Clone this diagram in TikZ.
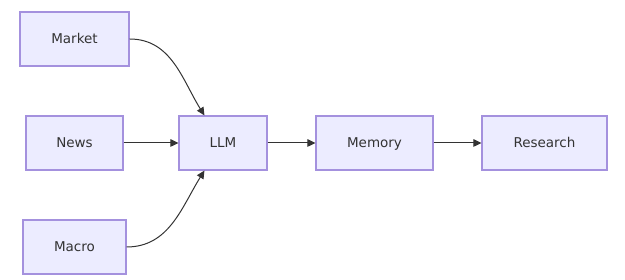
\documentclass[tikz,border=0pt]{standalone}
\usepackage{fontspec}
\setmainfont{DejaVu Sans}
\usepackage{tikz}
\usetikzlibrary{arrows.meta, positioning}
\definecolor{boxfill}{HTML}{ECECFF}
\definecolor{boxline}{HTML}{A491DE}
\definecolor{edgecol}{HTML}{333333}
\tikzstyle{block} = [rectangle, minimum height=54pt, text centered, text height=12pt, text depth=2pt, draw=boxline, line width=1.1pt, fill=boxfill, text=edgecol, font=\fontsize{13.5}{15}\selectfont]
\tikzstyle{arrow} = [draw=edgecol, line width=1pt, -{Triangle[length=8pt,width=7.5pt]}]

\begin{document}
\begin{tikzpicture}[x=1pt, y=1pt]
  \useasboundingbox (0,0) rectangle (625,280);

  % Sources
  \node[block, minimum width=109pt] (market) at (74.5,241) {Market};
  \node[block, minimum width=97pt] (news) at (74.5,137) {News};
  \node[block, minimum width=103pt] (macro) at (74.5,33) {Macro};

  % Pipeline
  \node[block, minimum width=88pt] (llm) at (223,137) {LLM};
  \node[block, minimum width=117pt] (memory) at (374.5,137) {Memory};
  \node[block, minimum width=125pt] (research) at (544.5,137) {Research};

  % Arrows
  \draw[arrow] (market.east) to[out=0, in=122] ([xshift=26pt]llm.north west);
  \draw[arrow] (news) -- (llm);
  \draw[arrow] (macro.east) to[out=0, in=-122] ([xshift=26pt]llm.south west);
  \draw[arrow] (llm) -- (memory);
  \draw[arrow] (memory) -- (research);

\end{tikzpicture}
\end{document}
